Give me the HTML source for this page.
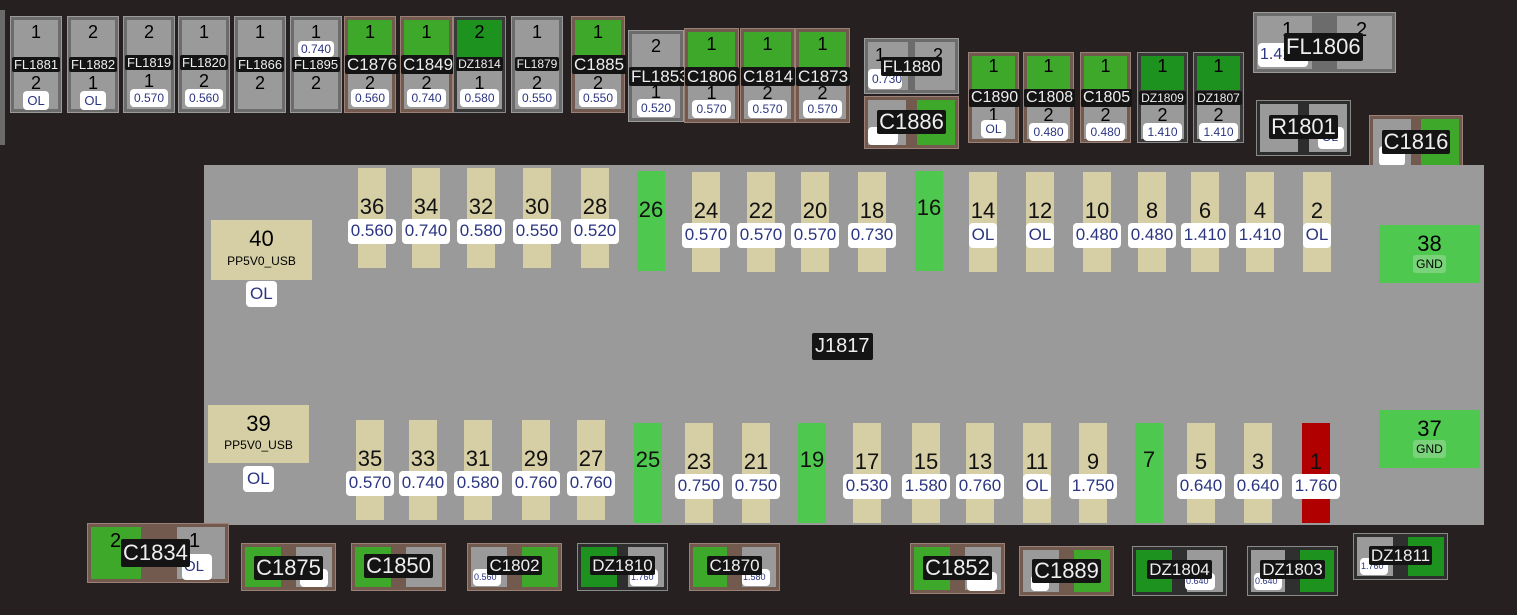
<!DOCTYPE html>
<html><head><meta charset="utf-8"><style>
*{margin:0;padding:0;box-sizing:border-box}
body{width:1517px;height:615px;background:#272020;position:relative;overflow:hidden;font-family:"Liberation Sans",Arial,sans-serif}
.a{position:absolute}
.c{position:absolute;text-align:center;left:0;right:0;line-height:1}
.l{display:inline-block;background:#141414;color:#eee;padding:1px 2px;border-radius:2px}
.v{display:inline-block;background:#fff;color:#2b3580;border-radius:4px;padding:3px 4px}
.fl{background:#6c6c6c;border:1px solid #9a9a9a}
.cp{background:#735a4f;border:1px solid #9a8076}
.dz{background:#3a3a3a;border:1px solid #8a8a8a}
.g{background:#9a9a9a}.gr{background:#3ea82a}.dg{background:#1e921e}
.pin{position:absolute;width:28px;height:100px;background:#d6cfa5}
.pin .n{position:absolute;left:-20px;right:-20px;text-align:center;font-size:22px;color:#111;line-height:1}
.pin .vv{position:absolute;left:-20px;right:-20px;text-align:center;font-size:17px}
.pin .vv span{display:inline-block;background:#fff;color:#2b3580;border-radius:4px;padding:3px 3px;line-height:1.1}
</style></head><body>

<div class="a" style="left:0;top:10px;width:5px;height:135px;background:#6a6a6a"></div>

<!-- top-left vertical parts -->
<div class="a fl" style="left:10px;top:16px;width:52px;height:97px"><div class="a g" style="left:3px;right:3px;top:3px;height:42px"></div><div class="a g" style="left:3px;right:3px;bottom:3px;height:42px"></div><div class="c" style="top:6px;font-size:18px">1</div><div class="c" style="top:40px;font-size:13px"><span class="l">FL1881</span></div><div class="c" style="top:57px;font-size:18px">2</div><div class="c" style="top:74px;font-size:13px"><span class="v">OL</span></div></div>
<div class="a fl" style="left:67px;top:16px;width:52px;height:97px"><div class="a g" style="left:3px;right:3px;top:3px;height:42px"></div><div class="a g" style="left:3px;right:3px;bottom:3px;height:42px"></div><div class="c" style="top:6px;font-size:18px">2</div><div class="c" style="top:40px;font-size:13px"><span class="l">FL1882</span></div><div class="c" style="top:57px;font-size:18px">1</div><div class="c" style="top:74px;font-size:13px"><span class="v">OL</span></div></div>
<div class="a fl" style="left:123px;top:16px;width:52px;height:97px"><div class="a g" style="left:3px;right:3px;top:3px;height:42px"></div><div class="a g" style="left:3px;right:3px;bottom:3px;height:42px"></div><div class="c" style="top:6px;font-size:18px">2</div><div class="c" style="top:38px;font-size:13px"><span class="l">FL1819</span></div><div class="c" style="top:55px;font-size:18px">1</div><div class="c" style="top:72px;font-size:12px"><span class="v">0.570</span></div></div>
<div class="a fl" style="left:178px;top:16px;width:52px;height:97px"><div class="a g" style="left:3px;right:3px;top:3px;height:42px"></div><div class="a g" style="left:3px;right:3px;bottom:3px;height:42px"></div><div class="c" style="top:6px;font-size:18px">1</div><div class="c" style="top:38px;font-size:13px"><span class="l">FL1820</span></div><div class="c" style="top:55px;font-size:18px">2</div><div class="c" style="top:72px;font-size:12px"><span class="v">0.560</span></div></div>
<div class="a fl" style="left:234px;top:16px;width:52px;height:97px"><div class="a g" style="left:3px;right:3px;top:3px;height:42px"></div><div class="a g" style="left:3px;right:3px;bottom:3px;height:42px"></div><div class="c" style="top:6px;font-size:18px">1</div><div class="c" style="top:40px;font-size:13px"><span class="l">FL1866</span></div><div class="c" style="top:57px;font-size:18px">2</div></div>
<div class="a fl" style="left:290px;top:16px;width:52px;height:97px"><div class="a g" style="left:3px;right:3px;top:3px;height:42px"></div><div class="a g" style="left:3px;right:3px;bottom:3px;height:42px"></div><div class="c" style="top:6px;font-size:18px">1</div><div class="c" style="top:24px;font-size:12px"><span class="v" style="padding:2px 3px">0.740</span></div><div class="c" style="top:40px;font-size:13px"><span class="l">FL1895</span></div><div class="c" style="top:57px;font-size:18px">2</div></div>
<div class="a cp" style="left:344px;top:16px;width:52px;height:97px"><div class="a gr" style="left:3px;right:3px;top:3px;height:42px"></div><div class="a g" style="left:3px;right:3px;bottom:3px;height:42px"></div><div class="c" style="top:6px;font-size:18px">1</div><div class="c" style="top:38px;font-size:17px"><span class="l">C1876</span></div><div class="c" style="top:57px;font-size:18px">2</div><div class="c" style="top:72px;font-size:12px"><span class="v">0.560</span></div></div>
<div class="a cp" style="left:400px;top:16px;width:53px;height:97px"><div class="a gr" style="left:3px;right:3px;top:3px;height:42px"></div><div class="a g" style="left:3px;right:3px;bottom:3px;height:42px"></div><div class="c" style="top:6px;font-size:18px">1</div><div class="c" style="top:38px;font-size:17px"><span class="l">C1849</span></div><div class="c" style="top:57px;font-size:18px">2</div><div class="c" style="top:72px;font-size:12px"><span class="v">0.740</span></div></div>
<div class="a dz" style="left:453px;top:16px;width:53px;height:97px"><div class="a dg" style="left:3px;right:3px;top:3px;height:42px"></div><div class="a g" style="left:3px;right:3px;bottom:3px;height:42px"></div><div class="c" style="top:6px;font-size:18px">2</div><div class="c" style="top:40px;font-size:12px"><span class="l">DZ1814</span></div><div class="c" style="top:57px;font-size:18px">1</div><div class="c" style="top:72px;font-size:12px"><span class="v">0.580</span></div></div>
<div class="a fl" style="left:511px;top:16px;width:52px;height:97px"><div class="a g" style="left:3px;right:3px;top:3px;height:42px"></div><div class="a g" style="left:3px;right:3px;bottom:3px;height:42px"></div><div class="c" style="top:6px;font-size:18px">1</div><div class="c" style="top:40px;font-size:12px"><span class="l">FL1879</span></div><div class="c" style="top:57px;font-size:18px">2</div><div class="c" style="top:72px;font-size:12px"><span class="v">0.550</span></div></div>
<div class="a cp" style="left:571px;top:16px;width:54px;height:97px"><div class="a gr" style="left:3px;right:3px;top:3px;height:42px"></div><div class="a g" style="left:3px;right:3px;bottom:3px;height:42px"></div><div class="c" style="top:6px;font-size:18px">1</div><div class="c" style="top:38px;font-size:17px"><span class="l">C1885</span></div><div class="c" style="top:57px;font-size:18px">2</div><div class="c" style="top:72px;font-size:12px"><span class="v">0.550</span></div></div>

<!-- middle row -->
<div class="a fl" style="left:628px;top:30px;width:56px;height:92px"><div class="a g" style="left:3px;right:3px;top:3px;height:38px"></div><div class="a g" style="left:3px;right:3px;bottom:3px;height:38px"></div><div class="c" style="top:6px;font-size:18px">2</div><div class="c" style="top:36px;font-size:17px"><span class="l">FL1853</span></div><div class="c" style="top:52px;font-size:18px">1</div><div class="c" style="top:68px;font-size:12px"><span class="v">0.520</span></div></div>
<div class="a cp" style="left:684px;top:28px;width:55px;height:95px"><div class="a gr" style="left:3px;right:3px;top:3px;height:40px"></div><div class="a g" style="left:3px;right:3px;bottom:3px;height:40px"></div><div class="c" style="top:6px;font-size:18px">1</div><div class="c" style="top:38px;font-size:17px"><span class="l">C1806</span></div><div class="c" style="top:55px;font-size:18px">1</div><div class="c" style="top:71px;font-size:12px"><span class="v">0.570</span></div></div>
<div class="a cp" style="left:740px;top:28px;width:55px;height:95px"><div class="a gr" style="left:3px;right:3px;top:3px;height:40px"></div><div class="a g" style="left:3px;right:3px;bottom:3px;height:40px"></div><div class="c" style="top:6px;font-size:18px">1</div><div class="c" style="top:38px;font-size:17px"><span class="l">C1814</span></div><div class="c" style="top:55px;font-size:18px">2</div><div class="c" style="top:71px;font-size:12px"><span class="v">0.570</span></div></div>
<div class="a cp" style="left:795px;top:28px;width:55px;height:95px"><div class="a gr" style="left:3px;right:3px;top:3px;height:40px"></div><div class="a g" style="left:3px;right:3px;bottom:3px;height:40px"></div><div class="c" style="top:6px;font-size:18px">1</div><div class="c" style="top:38px;font-size:17px"><span class="l">C1873</span></div><div class="c" style="top:55px;font-size:18px">2</div><div class="c" style="top:71px;font-size:12px"><span class="v">0.570</span></div></div>

<!-- FL1880 / C1886 -->
<div class="a fl" style="left:864px;top:38px;width:95px;height:56px"><div class="a g" style="left:3px;top:3px;bottom:3px;width:40px"></div><div class="a g" style="right:3px;top:3px;bottom:3px;width:40px"></div><div class="a" style="left:10px;top:6px;font-size:18px">1</div><div class="a" style="left:68px;top:6px;font-size:18px">2</div><div class="a v" style="left:3px;top:30px;font-size:12px;width:34px;height:20px">0.730</div><div class="c" style="top:18px;font-size:17px"><span class="l">FL1880</span></div></div>
<div class="a cp" style="left:864px;top:96px;width:95px;height:53px"><div class="a g" style="left:3px;top:3px;bottom:3px;width:38px"></div><div class="a gr" style="right:3px;top:3px;bottom:3px;width:38px"></div><div class="a v" style="left:3px;top:30px;font-size:12px;width:30px;height:18px"></div><div class="c" style="top:13px;font-size:22px"><span class="l">C1886</span></div></div>

<!-- C1890 row -->
<div class="a cp" style="left:968px;top:52px;width:51px;height:91px"><div class="a gr" style="left:3px;right:3px;top:3px;height:34px"></div><div class="a g" style="left:3px;right:3px;bottom:3px;height:40px"></div><div class="c" style="top:4px;font-size:18px">1</div><div class="c" style="top:36px;font-size:16px"><span class="l">C1890</span></div><div class="c" style="top:53px;font-size:18px">1</div><div class="c" style="top:67px;font-size:12px"><span class="v">OL</span></div></div>
<div class="a cp" style="left:1023px;top:52px;width:51px;height:91px"><div class="a gr" style="left:3px;right:3px;top:3px;height:34px"></div><div class="a g" style="left:3px;right:3px;bottom:3px;height:40px"></div><div class="c" style="top:4px;font-size:18px">1</div><div class="c" style="top:36px;font-size:16px"><span class="l">C1808</span></div><div class="c" style="top:53px;font-size:18px">2</div><div class="c" style="top:70px;font-size:12px"><span class="v">0.480</span></div></div>
<div class="a cp" style="left:1080px;top:52px;width:51px;height:91px"><div class="a gr" style="left:3px;right:3px;top:3px;height:34px"></div><div class="a g" style="left:3px;right:3px;bottom:3px;height:40px"></div><div class="c" style="top:4px;font-size:18px">1</div><div class="c" style="top:36px;font-size:16px"><span class="l">C1805</span></div><div class="c" style="top:53px;font-size:18px">2</div><div class="c" style="top:70px;font-size:12px"><span class="v">0.480</span></div></div>
<div class="a dz" style="left:1137px;top:52px;width:51px;height:91px"><div class="a dg" style="left:3px;right:3px;top:3px;height:34px"></div><div class="a g" style="left:3px;right:3px;bottom:3px;height:40px"></div><div class="c" style="top:4px;font-size:18px">1</div><div class="c" style="top:38px;font-size:12px"><span class="l">DZ1809</span></div><div class="c" style="top:53px;font-size:18px">2</div><div class="c" style="top:70px;font-size:12px"><span class="v">1.410</span></div></div>
<div class="a dz" style="left:1193px;top:52px;width:51px;height:91px"><div class="a dg" style="left:3px;right:3px;top:3px;height:34px"></div><div class="a g" style="left:3px;right:3px;bottom:3px;height:40px"></div><div class="c" style="top:4px;font-size:18px">1</div><div class="c" style="top:38px;font-size:12px"><span class="l">DZ1807</span></div><div class="c" style="top:53px;font-size:18px">2</div><div class="c" style="top:70px;font-size:12px"><span class="v">1.410</span></div></div>

<!-- FL1806 / R1801 / C1816 -->
<div class="a fl" style="left:1253px;top:12px;width:143px;height:61px"><div class="a g" style="left:3px;top:3px;bottom:3px;width:55px"></div><div class="a g" style="right:3px;top:3px;bottom:3px;width:55px"></div><div class="a" style="left:28px;top:6px;font-size:20px">1</div><div class="a" style="left:102px;top:6px;font-size:20px">2</div><div class="a v" style="left:4px;top:30px;font-size:16px;width:50px;height:24px;padding:3px 2px">1.410</div><div class="a" style="left:30px;top:20px;font-size:22px"><span class="l">FL1806</span></div></div>
<div class="a dz" style="left:1256px;top:100px;width:95px;height:56px;background:#2d2d2d"><div class="a g" style="left:3px;top:3px;bottom:3px;width:38px"></div><div class="a g" style="right:3px;top:3px;bottom:3px;width:38px"></div><div class="a v" style="left:61px;top:26px;font-size:12px;width:26px;height:22px">OL</div><div class="c" style="top:14px;font-size:22px"><span class="l">R1801</span></div></div>
<div class="a cp" style="left:1369px;top:115px;width:94px;height:52px"><div class="a g" style="left:3px;top:3px;bottom:0;width:38px"></div><div class="a gr" style="right:3px;top:3px;bottom:0;width:38px"></div><div class="a v" style="left:9px;top:30px;font-size:12px;width:26px;height:20px"></div><div class="c" style="top:14px;font-size:22px"><span class="l">C1816</span></div></div>

<!-- board -->
<div class="a" style="left:204px;top:165px;width:1280px;height:360px;background:#9a9a9a"></div>
<div class="a" style="left:211px;top:220px;width:101px;height:60px;background:#d6cfa5"><div class="c" style="top:8px;font-size:22px">40</div><div class="c" style="top:35px;font-size:12px">PP5V0_USB</div></div>
<div class="a v" style="left:246px;top:281px;font-size:17px;padding:3px 4px">OL</div>
<div class="a" style="left:208px;top:405px;width:101px;height:58px;background:#d6cfa5"><div class="c" style="top:8px;font-size:22px">39</div><div class="c" style="top:34px;font-size:12px">PP5V0_USB</div></div>
<div class="a v" style="left:243px;top:466px;font-size:17px;padding:3px 4px">OL</div>
<div class="a" style="left:1379px;top:225px;width:101px;height:58px;background:#4fc84f"><div class="c" style="top:8px;font-size:22px">38</div><div class="c" style="top:33px;font-size:12px"><span style="background:#7ad37a;padding:2px 3px;border-radius:3px">GND</span></div></div>
<div class="a" style="left:1379px;top:410px;width:101px;height:58px;background:#4fc84f"><div class="c" style="top:8px;font-size:22px">37</div><div class="c" style="top:33px;font-size:12px"><span style="background:#7ad37a;padding:2px 3px;border-radius:3px">GND</span></div></div>
<div class="a" style="left:812px;top:333px;font-size:20px"><span class="l" style="padding:2px 3px">J1817</span></div>

<!-- top pins -->
<div class="pin" style="left:358px;top:168px"><div class="n" style="top:28px">36</div><div class="vv" style="top:51px"><span>0.560</span></div></div>
<div class="pin" style="left:412px;top:168px"><div class="n" style="top:28px">34</div><div class="vv" style="top:51px"><span>0.740</span></div></div>
<div class="pin" style="left:467px;top:168px"><div class="n" style="top:28px">32</div><div class="vv" style="top:51px"><span>0.580</span></div></div>
<div class="pin" style="left:523px;top:168px"><div class="n" style="top:28px">30</div><div class="vv" style="top:51px"><span>0.550</span></div></div>
<div class="pin" style="left:581px;top:168px"><div class="n" style="top:28px">28</div><div class="vv" style="top:51px"><span>0.520</span></div></div>
<div class="pin" style="left:637px;top:171px;background:#4fc84f"><div class="n" style="top:28px">26</div></div>
<div class="pin" style="left:692px;top:172px"><div class="n" style="top:28px">24</div><div class="vv" style="top:51px"><span>0.570</span></div></div>
<div class="pin" style="left:747px;top:172px"><div class="n" style="top:28px">22</div><div class="vv" style="top:51px"><span>0.570</span></div></div>
<div class="pin" style="left:801px;top:172px"><div class="n" style="top:28px">20</div><div class="vv" style="top:51px"><span>0.570</span></div></div>
<div class="pin" style="left:858px;top:172px"><div class="n" style="top:28px">18</div><div class="vv" style="top:51px"><span>0.730</span></div></div>
<div class="pin" style="left:915px;top:171px;background:#4fc84f"><div class="n" style="top:26px">16</div></div>
<div class="pin" style="left:969px;top:172px"><div class="n" style="top:28px">14</div><div class="vv" style="top:51px"><span>OL</span></div></div>
<div class="pin" style="left:1026px;top:172px"><div class="n" style="top:28px">12</div><div class="vv" style="top:51px"><span>OL</span></div></div>
<div class="pin" style="left:1083px;top:172px"><div class="n" style="top:28px">10</div><div class="vv" style="top:51px"><span>0.480</span></div></div>
<div class="pin" style="left:1138px;top:172px"><div class="n" style="top:28px">8</div><div class="vv" style="top:51px"><span>0.480</span></div></div>
<div class="pin" style="left:1191px;top:172px"><div class="n" style="top:28px">6</div><div class="vv" style="top:51px"><span>1.410</span></div></div>
<div class="pin" style="left:1246px;top:172px"><div class="n" style="top:28px">4</div><div class="vv" style="top:51px"><span>1.410</span></div></div>
<div class="pin" style="left:1303px;top:172px"><div class="n" style="top:28px">2</div><div class="vv" style="top:51px"><span>OL</span></div></div>

<!-- bottom pins -->
<div class="pin" style="left:356px;top:420px"><div class="n" style="top:28px">35</div><div class="vv" style="top:51px"><span>0.570</span></div></div>
<div class="pin" style="left:409px;top:420px"><div class="n" style="top:28px">33</div><div class="vv" style="top:51px"><span>0.740</span></div></div>
<div class="pin" style="left:464px;top:420px"><div class="n" style="top:28px">31</div><div class="vv" style="top:51px"><span>0.580</span></div></div>
<div class="pin" style="left:522px;top:420px"><div class="n" style="top:28px">29</div><div class="vv" style="top:51px"><span>0.760</span></div></div>
<div class="pin" style="left:577px;top:420px"><div class="n" style="top:28px">27</div><div class="vv" style="top:51px"><span>0.760</span></div></div>
<div class="pin" style="left:634px;top:423px;background:#4fc84f"><div class="n" style="top:26px">25</div></div>
<div class="pin" style="left:685px;top:423px"><div class="n" style="top:28px">23</div><div class="vv" style="top:51px"><span>0.750</span></div></div>
<div class="pin" style="left:742px;top:423px"><div class="n" style="top:28px">21</div><div class="vv" style="top:51px"><span>0.750</span></div></div>
<div class="pin" style="left:798px;top:423px;background:#4fc84f"><div class="n" style="top:26px">19</div></div>
<div class="pin" style="left:853px;top:423px"><div class="n" style="top:28px">17</div><div class="vv" style="top:51px"><span>0.530</span></div></div>
<div class="pin" style="left:912px;top:423px"><div class="n" style="top:28px">15</div><div class="vv" style="top:51px"><span>1.580</span></div></div>
<div class="pin" style="left:966px;top:423px"><div class="n" style="top:28px">13</div><div class="vv" style="top:51px"><span>0.760</span></div></div>
<div class="pin" style="left:1023px;top:423px"><div class="n" style="top:28px">11</div><div class="vv" style="top:51px"><span>OL</span></div></div>
<div class="pin" style="left:1079px;top:423px"><div class="n" style="top:28px">9</div><div class="vv" style="top:51px"><span>1.750</span></div></div>
<div class="pin" style="left:1135px;top:423px;background:#4fc84f"><div class="n" style="top:26px">7</div></div>
<div class="pin" style="left:1187px;top:423px"><div class="n" style="top:28px">5</div><div class="vv" style="top:51px"><span>0.640</span></div></div>
<div class="pin" style="left:1244px;top:423px"><div class="n" style="top:28px">3</div><div class="vv" style="top:51px"><span>0.640</span></div></div>
<div class="pin" style="left:1302px;top:423px;background:#b00000"><div class="n" style="top:28px">1</div><div class="vv" style="top:51px"><span>1.760</span></div></div>

<!-- bottom parts -->
<div class="a cp" style="left:87px;top:523px;width:142px;height:60px"><div class="a gr" style="left:3px;top:3px;bottom:3px;width:50px"></div><div class="a g" style="right:3px;top:3px;bottom:3px;width:48px"></div><div class="a" style="left:22px;top:6px;font-size:20px">2</div><div class="a" style="left:101px;top:6px;font-size:20px">1</div><div class="a v" style="left:94px;top:30px;font-size:15px;width:30px;height:26px;padding:4px 2px">OL</div><div class="a" style="left:33px;top:15px;font-size:22px"><span class="l">C1834</span></div></div>
<div class="a cp" style="left:241px;top:543px;width:95px;height:48px"><div class="a gr" style="left:3px;top:3px;bottom:3px;width:36px"></div><div class="a g" style="right:3px;top:3px;bottom:3px;width:36px"></div><div class="a v" style="left:58px;top:25px;width:28px;height:18px"></div><div class="c" style="top:12px;font-size:22px"><span class="l">C1875</span></div></div>
<div class="a cp" style="left:351px;top:543px;width:95px;height:48px"><div class="a gr" style="left:3px;top:3px;bottom:3px;width:36px"></div><div class="a g" style="right:3px;top:3px;bottom:3px;width:36px"></div><div class="c" style="top:10px;font-size:22px"><span class="l">C1850</span></div></div>
<div class="a cp" style="left:467px;top:543px;width:95px;height:48px"><div class="a g" style="left:3px;top:3px;bottom:3px;width:36px"></div><div class="a gr" style="right:3px;top:3px;bottom:3px;width:36px"></div><div class="a v" style="left:5px;top:25px;font-size:9px;width:28px;height:17px;padding:3px 1px">0.560</div><div class="c" style="top:12px;font-size:17px"><span class="l">C1802</span></div></div>
<div class="a dz" style="left:577px;top:543px;width:91px;height:48px;background:#2f2f2f"><div class="a dg" style="left:3px;top:3px;bottom:3px;width:36px"></div><div class="a g" style="right:3px;top:3px;bottom:3px;width:36px"></div><div class="a v" style="left:52px;top:25px;font-size:9px;width:28px;height:17px;padding:3px 1px">1.760</div><div class="c" style="top:12px;font-size:17px"><span class="l">DZ1810</span></div></div>
<div class="a cp" style="left:689px;top:543px;width:91px;height:48px"><div class="a gr" style="left:3px;top:3px;bottom:3px;width:34px"></div><div class="a g" style="right:3px;top:3px;bottom:3px;width:34px"></div><div class="a v" style="left:52px;top:25px;font-size:9px;width:28px;height:17px;padding:3px 1px">1.580</div><div class="c" style="top:12px;font-size:17px"><span class="l">C1870</span></div></div>
<div class="a cp" style="left:910px;top:543px;width:95px;height:51px"><div class="a gr" style="left:3px;top:3px;bottom:3px;width:36px"></div><div class="a g" style="right:3px;top:3px;bottom:3px;width:36px"></div><div class="a v" style="left:56px;top:28px;width:30px;height:19px"></div><div class="c" style="top:12px;font-size:22px"><span class="l">C1852</span></div></div>
<div class="a cp" style="left:1019px;top:546px;width:95px;height:50px"><div class="a g" style="left:3px;top:3px;bottom:3px;width:36px"></div><div class="a gr" style="right:3px;top:3px;bottom:3px;width:36px"></div><div class="a v" style="left:11px;top:28px;width:18px;height:16px"></div><div class="c" style="top:12px;font-size:22px"><span class="l">C1889</span></div></div>
<div class="a dz" style="left:1132px;top:546px;width:95px;height:50px;background:#2f2f2f"><div class="a dg" style="left:3px;top:3px;bottom:3px;width:36px"></div><div class="a g" style="right:3px;top:3px;bottom:3px;width:36px"></div><div class="a v" style="left:52px;top:26px;font-size:9px;width:30px;height:17px;padding:3px 1px">0.640</div><div class="c" style="top:13px;font-size:17px"><span class="l">DZ1804</span></div></div>
<div class="a dz" style="left:1247px;top:546px;width:91px;height:50px;background:#2f2f2f"><div class="a g" style="left:3px;top:3px;bottom:3px;width:34px"></div><div class="a dg" style="right:3px;top:3px;bottom:3px;width:34px"></div><div class="a v" style="left:6px;top:26px;font-size:9px;width:28px;height:17px;padding:3px 1px">0.640</div><div class="c" style="top:13px;font-size:17px"><span class="l">DZ1803</span></div></div>
<div class="a dz" style="left:1353px;top:533px;width:95px;height:47px;background:#2f2f2f"><div class="a g" style="left:3px;top:3px;bottom:3px;width:36px"></div><div class="a dg" style="right:3px;top:3px;bottom:3px;width:36px"></div><div class="a v" style="left:6px;top:24px;font-size:9px;width:28px;height:17px;padding:3px 1px">1.760</div><div class="c" style="top:12px;font-size:17px"><span class="l">DZ1811</span></div></div>

</body></html>
